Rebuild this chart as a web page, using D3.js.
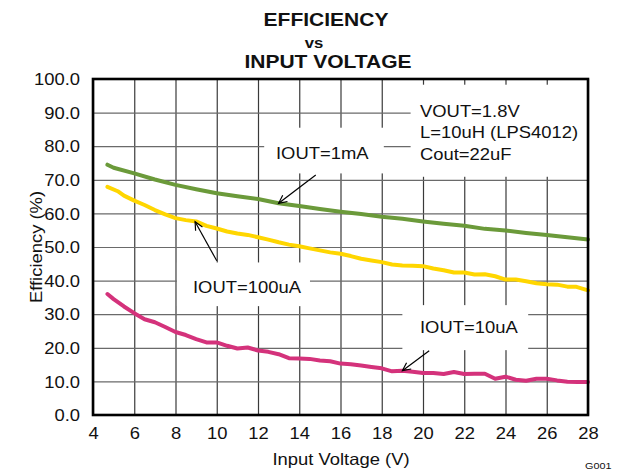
<!DOCTYPE html>
<html>
<head>
<meta charset="utf-8">
<script src="https://cdn.jsdelivr.net/npm/d3@7"></script>
<style>
  html, body { margin: 0; padding: 0; background: #fff; }
  svg { display: block; }
  text { font-family: "Liberation Sans", Arial, sans-serif; fill: #111; }
</style>
</head>
<body>
<div id="chart"></div>
<script>
// ---------------- data ----------------
const titleLines = ["EFFICIENCY", "vs", "INPUT VOLTAGE"];
const xTicks = [4, 6, 8, 10, 12, 14, 16, 18, 20, 22, 24, 26, 28];
const yTicks = [0, 10, 20, 30, 40, 50, 60, 70, 80, 90, 100];
const xLabel = "Input Voltage (V)";
const yLabel = "Efficiency (%)";
const conditionLines = ["VOUT=1.8V", "L=10uH (LPS4012)", "Cout=22uF"];

// IOUT = 1mA
const vin1mA = [4.7, 5, 6, 7, 8, 9, 10, 11, 12, 13, 14, 15, 16, 17, 18, 19, 20, 21, 22, 23, 24, 25, 26, 27, 28];
const eff1mA = [74.5, 73.6, 71.9, 70.1, 68.5, 67.2, 66.0, 65.1, 64.3, 63.0, 62.2, 61.3, 60.5, 59.8, 59.0, 58.4, 57.6, 56.9, 56.3, 55.4, 54.9, 54.2, 53.6, 52.9, 52.2];

// IOUT = 100uA
const vin100uA = [4.7, 5.2, 5.5, 6, 6.5, 7, 7.5, 8, 8.5, 9, 9.5, 10, 10.5, 11, 11.5, 12, 12.5, 13, 13.5, 14, 14.5, 15, 15.5, 16, 16.5, 17, 17.5, 18, 18.5, 19, 19.5, 20, 20.5, 21, 21.5, 22, 22.5, 23, 23.5, 24, 24.5, 25, 25.5, 26, 26.5, 27, 27.4, 28];
const eff100uA = [67.9, 66.6, 65.3, 63.8, 62.5, 61.0, 59.7, 58.6, 58.0, 57.6, 56.3, 55.5, 54.6, 54.0, 53.6, 52.9, 52.2, 51.4, 50.7, 50.2, 49.6, 49.0, 48.4, 48.0, 47.3, 46.5, 46.0, 45.5, 44.8, 44.5, 44.4, 44.3, 43.6, 43.1, 42.4, 42.4, 41.8, 41.9, 41.3, 40.3, 40.3, 39.8, 39.2, 38.9, 38.8, 38.2, 38.2, 37.1];

// IOUT = 10uA
const vin10uA = [4.7, 5, 5.5, 6, 6.5, 7, 7.5, 8, 8.5, 9, 9.5, 10, 10.5, 11, 11.5, 12, 12.5, 13, 13.5, 14, 14.5, 15, 15.5, 16, 16.5, 17, 17.5, 18, 18.5, 19, 19.5, 20, 20.5, 21, 21.5, 22, 22.5, 23, 23.5, 24, 24.5, 25, 25.5, 26, 26.5, 27, 27.5, 28];
const eff10uA = [36.0, 34.5, 32.3, 30.3, 28.5, 27.6, 26.2, 24.7, 23.8, 22.6, 21.6, 21.6, 20.6, 19.8, 20.1, 19.2, 18.8, 18.1, 16.9, 16.8, 16.7, 16.2, 16.0, 15.3, 15.1, 14.7, 14.3, 13.9, 13.0, 13.2, 12.9, 12.5, 12.5, 12.2, 12.8, 12.2, 12.3, 12.3, 10.8, 11.4, 10.5, 10.2, 10.8, 10.8, 10.3, 9.9, 9.8, 9.8];

const seriesNames = ["IOUT=1mA", "IOUT=100uA", "IOUT=10uA"];
const seriesColors = ["#6B9A3A", "#FFD600", "#D4327B"];
const seriesX = [vin1mA, vin100uA, vin10uA];
const seriesY = [eff1mA, eff100uA, eff10uA];

// ---------------- layout ----------------
const W = 621, H = 470;
const SX = 1.13; // horizontal glyph stretch seen in the reference
const margin = { left: 93, right: 33, top: 79, bottom: 55 };
const innerW = W - margin.left - margin.right;
const innerH = H - margin.top - margin.bottom;

const svg = d3.select("#chart").append("svg")
  .attr("width", W).attr("height", H);

const x = d3.scaleLinear().domain([4, 28]).range([margin.left, margin.left + innerW]);
const y = d3.scaleLinear().domain([0, 100]).range([margin.top + innerH, margin.top]);

function stretchedText(parent, str, px, py, size, opts = {}) {
  const tf = opts.rotate
    ? `translate(${px},${py}) rotate(${opts.rotate}) scale(${SX},1)`
    : `translate(${px},${py}) scale(${SX},1)`;
  return parent.append("text")
    .attr("transform", tf)
    .attr("text-anchor", opts.anchor || "start")
    .attr("font-size", size)
    .attr("font-weight", opts.bold ? "bold" : null)
    .text(str);
}

// title
stretchedText(svg, titleLines[0], 326, 26, 18.6, { anchor: "middle", bold: true });
stretchedText(svg, titleLines[1], 314, 47.5, 14.8, { anchor: "middle", bold: true });
stretchedText(svg, titleLines[2], 328, 68, 18.6, { anchor: "middle", bold: true });

// grid
const gridV = svg.append("g")
  .attr("transform", `translate(0,${margin.top + innerH})`)
  .call(d3.axisBottom(x).tickValues(xTicks).tickSize(-innerH).tickFormat(""));
gridV.select(".domain").remove();
gridV.selectAll("line").attr("stroke", "#3a3a3a").attr("stroke-width", 1.2);

const gridH = svg.append("g")
  .attr("transform", `translate(${margin.left},0)`)
  .call(d3.axisLeft(y).tickValues(yTicks).tickSize(-innerW).tickFormat(""));
gridH.select(".domain").remove();
gridH.selectAll("line").attr("stroke", "#6a6a6a").attr("stroke-width", 1.2);

// tick labels
const xAxis = svg.append("g")
  .attr("transform", `translate(0,${margin.top + innerH})`)
  .call(d3.axisBottom(x).tickValues(xTicks).tickSize(0).tickPadding(0).tickFormat(d3.format("d")));
xAxis.select(".domain").remove();
xAxis.selectAll("text")
  .attr("y", 24).attr("dy", null)
  .attr("font-size", 16.3)
  .attr("font-family", "Liberation Sans, Arial, sans-serif")
  .attr("fill", "#111")
  .attr("transform", `scale(${SX},1)`);

const yAxis = svg.append("g")
  .attr("transform", `translate(${margin.left},0)`)
  .call(d3.axisLeft(y).tickValues(yTicks).tickSize(0).tickPadding(0).tickFormat(d3.format(".1f")));
yAxis.select(".domain").remove();
yAxis.selectAll("text")
  .attr("x", -13 / SX).attr("dy", "0.35em")
  .attr("font-size", 16.3)
  .attr("font-family", "Liberation Sans, Arial, sans-serif")
  .attr("fill", "#111")
  .attr("transform", `scale(${SX},1)`);

// annotation boxes (white patches over grid)
const boxes = [
  { x0: 12.3, x1: 18.1, y0: 85.5, y1: 71.9 },  // IOUT=1mA
  { x0: 19.4, x1: 28, y0: 98.3, y1: 70.9 },     // conditions
  { x0: 8.07, x1: 14.52, y0: 45.4, y1: 32.4 },  // IOUT=100uA
  { x0: 19.0, x1: 25.1, y0: 32.7, y1: 19.3 }    // IOUT=10uA
];
svg.append("g").selectAll("rect").data(boxes).join("rect")
  .attr("x", d => x(d.x0)).attr("y", d => y(d.y0))
  .attr("width", d => x(d.x1) - x(d.x0)).attr("height", d => y(d.y1) - y(d.y0))
  .attr("fill", "#fff");

// series lines
const line = d3.line().x(d => x(d[0])).y(d => y(d[1])).curve(d3.curveLinear);
seriesX.forEach((xs, i) => {
  const pts = xs.map((v, j) => [v, seriesY[i][j]]);
  svg.append("path")
    .datum(pts)
    .attr("d", line)
    .attr("fill", "none")
    .attr("stroke", seriesColors[i])
    .attr("stroke-width", 4)
    .attr("stroke-linejoin", "round")
    .attr("stroke-linecap", "round");
});

// frame
svg.append("rect")
  .attr("x", margin.left).attr("y", margin.top)
  .attr("width", innerW).attr("height", innerH)
  .attr("fill", "none").attr("stroke", "#000").attr("stroke-width", 2.6);

// annotation labels
stretchedText(svg, seriesNames[0], 276, 158.5, 16.3);
stretchedText(svg, seriesNames[1], 193, 293.3, 16.3);
stretchedText(svg, seriesNames[2], 420, 333.3, 16.3);
conditionLines.forEach((t, i) => stretchedText(svg, t, 420, 116.5 + i * 21.6, 16.3));

// arrows: [from (V, %), to (V, %)]
const arrows = [
  { from: [14.8, 71.4], to: [13.0, 63.0] },
  { from: [10.0, 45.9], to: [8.95, 57.5] },
  { from: [20.3, 19.1], to: [19.0, 13.2] }
];
const ag = svg.append("g").attr("stroke", "#000").attr("stroke-width", 1.2).attr("fill", "none");
arrows.forEach(a => {
  const x1 = x(a.from[0]), y1 = y(a.from[1]), x2 = x(a.to[0]), y2 = y(a.to[1]);
  ag.append("line").attr("x1", x1).attr("y1", y1).attr("x2", x2).attr("y2", y2);
  const ang = Math.atan2(y2 - y1, x2 - x1);
  const L = 9, spread = 0.45;
  const p1 = [x2 - L * Math.cos(ang - spread), y2 - L * Math.sin(ang - spread)];
  const p2 = [x2 - L * Math.cos(ang + spread), y2 - L * Math.sin(ang + spread)];
  ag.append("path").attr("d", `M${p1[0]},${p1[1]}L${x2},${y2}L${p2[0]},${p2[1]}`);
});

// axis titles
stretchedText(svg, xLabel, 341, 464.5, 16.3, { anchor: "middle" });
stretchedText(svg, yLabel, 42, 247, 16.3, { anchor: "middle", rotate: -90 });

// figure id
stretchedText(svg, "G001", 611.5, 469, 9.6, { anchor: "end" });
</script>
</body>
</html>
